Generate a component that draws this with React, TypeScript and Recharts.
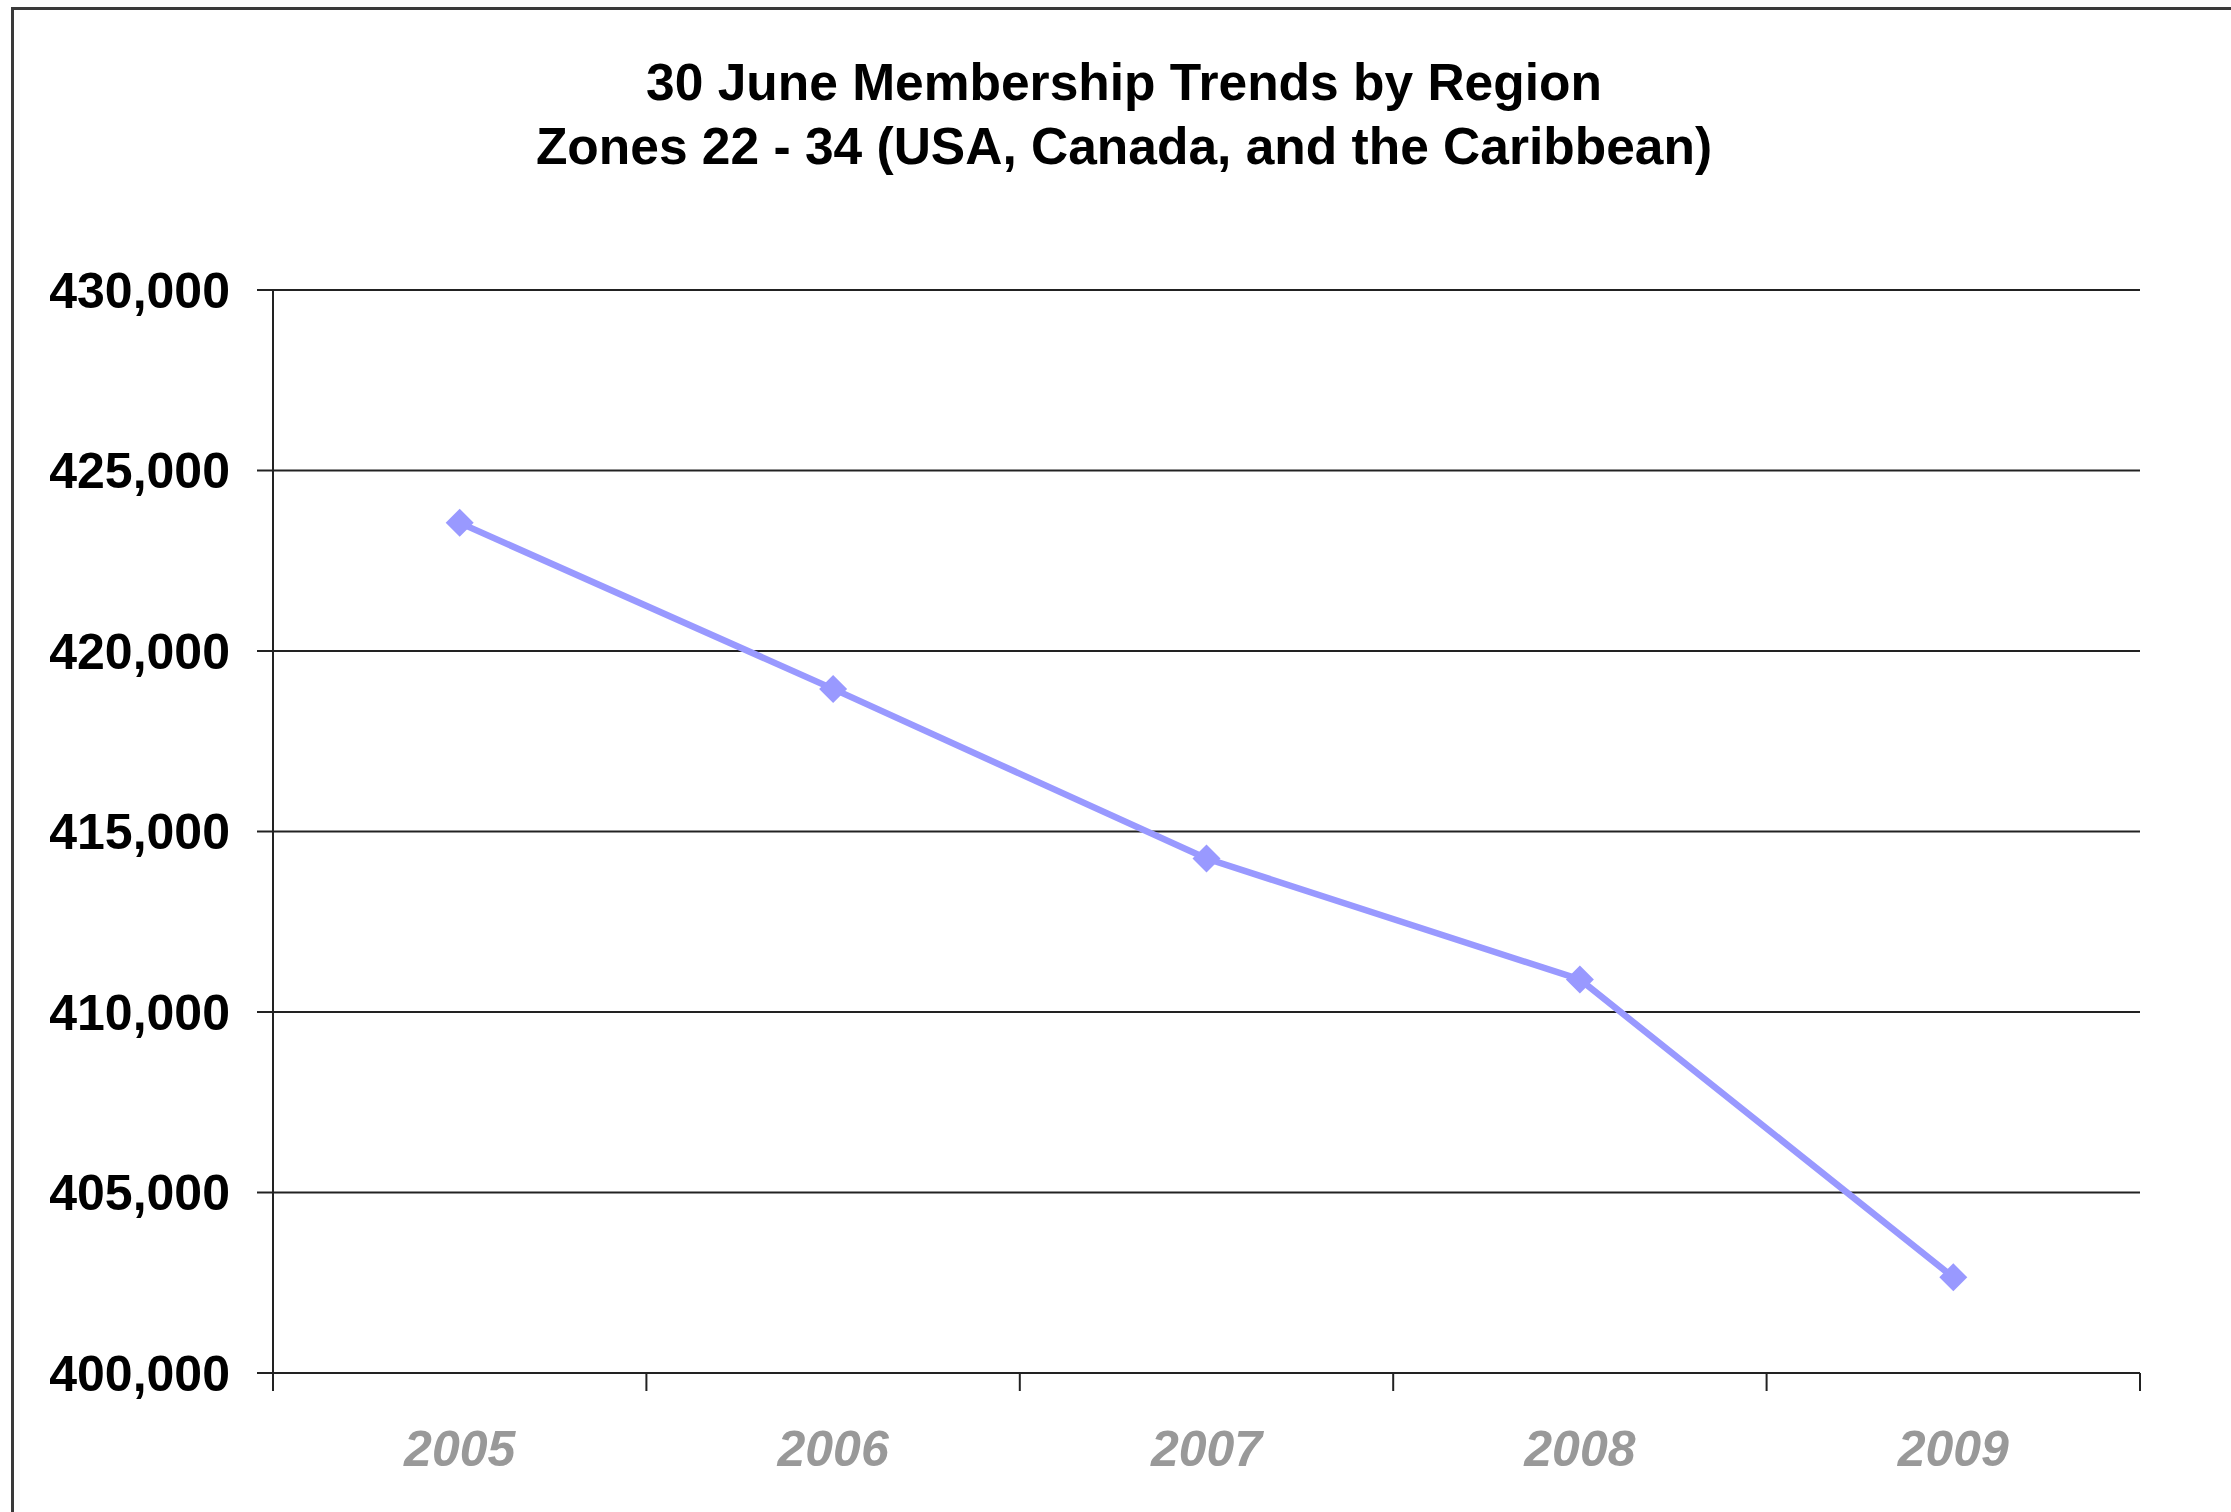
import React from 'react';
import { LineChart, Line, XAxis, YAxis, CartesianGrid } from 'recharts';

const years = ['2005', '2006', '2007', '2008', '2009'];
const members = [423550, 418950, 414250, 410900, 402650];
const yTicks = [400000, 405000, 410000, 415000, 420000, 425000, 430000];
const titleLines = ['30 June Membership Trends by Region', 'Zones 22 - 34 (USA, Canada, and the Caribbean)'];

const FONT = '"Liberation Sans", Arial, sans-serif';
const LINE_COLOR = '#9999FF';

// points sit in the middle of each year's band, boundaries get the tick marks
const data = years.map((year, i) => ({ year, pos: i + 0.5, members: members[i] }));
const xTicks = years.flatMap((_, i) => [i, i + 0.5]).concat(years.length);

const XTick = (props: any) => {
  const { x, y, payload } = props;
  const v = payload.value as number;
  if (Number.isInteger(v)) {
    return <line x1={x} y1={y} x2={x} y2={y + 18} stroke="#222" strokeWidth={2} />;
  }
  return (
    <text x={x} y={y + 93} textAnchor="middle" fontFamily={FONT} fontSize={50}
      fontWeight="bold" fontStyle="italic" fill="#999">
      {years[Math.floor(v)]}
    </text>
  );
};

const Diamond = (props: any) => {
  const { cx, cy } = props;
  const r = 14;
  return <path d={`M${cx},${cy - r}L${cx + r},${cy}L${cx},${cy + r}L${cx - r},${cy}Z`} fill={LINE_COLOR} />;
};

export default function App() {
  return (
    <div style={{ position: 'absolute', left: 0, top: 0, width: 2231, height: 1512, overflow: 'hidden', background: '#fff' }}>
      <div style={{ position: 'absolute', left: 11, top: 7, width: 2240, height: 1530, border: '3px solid #3a3a3a' }} />
      <svg width={2231} height={200} style={{ position: 'absolute', left: 0, top: 0 }}>
        {titleLines.map((t, i) => (
          <text key={i} x={1124} y={100 + i * 64} textAnchor="middle" fontFamily={FONT} fontSize={51.5} fontWeight="bold" fill="#000">
            {t}
          </text>
        ))}
      </svg>
      <div style={{ position: 'absolute', left: 0, top: 0 }}>
        <LineChart width={2231} height={1512} data={data} margin={{ top: 290, right: 91, left: 20, bottom: 39 }}>
          <CartesianGrid vertical={false} stroke="#222" strokeWidth={2} />
          <XAxis
            dataKey="pos"
            type="number"
            domain={[0, years.length]}
            ticks={xTicks}
            interval={0}
            height={100}
            tickSize={0}
            tickMargin={0}
            tickLine={false}
            axisLine={{ stroke: '#222', strokeWidth: 2 }}
            tick={<XTick />}
          />
          <YAxis
            domain={[400000, 430000]}
            ticks={yTicks}
            interval={0}
            width={253}
            tickSize={16}
            tickMargin={27}
            tickLine={{ stroke: '#222', strokeWidth: 2 }}
            axisLine={{ stroke: '#222', strokeWidth: 2 }}
            tickFormatter={(v: number) => v.toLocaleString('en-US')}
            tick={{ fontFamily: FONT, fontSize: 50, fontWeight: 'bold', fill: '#000' }}
          />
          <Line
            type="linear"
            dataKey="members"
            stroke={LINE_COLOR}
            strokeWidth={6.5}
            dot={(p: any) => <Diamond key={p.index} {...p} />}
            activeDot={false}
            isAnimationActive={false}
          />
        </LineChart>
      </div>
    </div>
  );
}
